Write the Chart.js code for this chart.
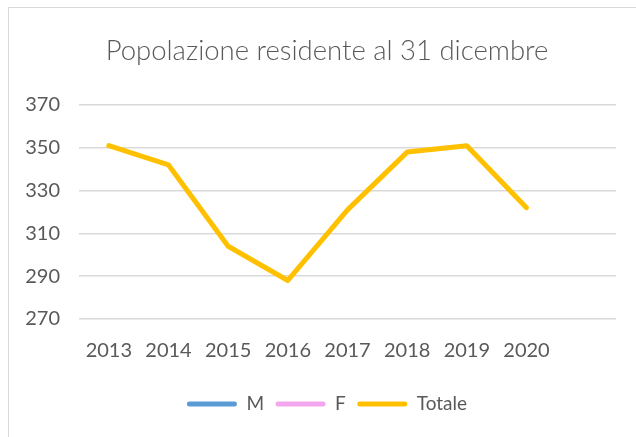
<!DOCTYPE html>
<html>
<head>
<meta charset="utf-8">
<script src="https://cdn.jsdelivr.net/npm/chart.js@4.4.0/dist/chart.umd.min.js"></script>
<style>
  html, body { margin: 0; padding: 0; background: #fff; overflow: hidden; }
  #wrap { position: relative; width: 636px; height: 437px; }
  #frame { position: absolute; left: 8px; top: 7px; width: 700px; height: 500px; border: 1px solid #d9d9d9; pointer-events: none; }
  canvas { position: absolute; left: 0; top: 0; }
</style>
</head>
<body>
<div id="wrap">
  <canvas id="c" width="636" height="437"></canvas>
  <div id="frame"></div>
</div>
<script>
const categories = ['2013', '2014', '2015', '2016', '2017', '2018', '2019', '2020', ''];
const seriesM = [null, null, null, null, null, null, null, null, null];
const seriesF = [null, null, null, null, null, null, null, null, null];
const seriesTotale = [351, 342, 304, 288, 321, 348, 351, 322, null];
const yTicks = [270, 290, 310, 330, 350, 370];

const textColor = '#595959';
const fontFam = 'Lato, "Open Sans", sans-serif';

// let the y tick labels extend left of the layout box without being clipped
const widenYLabelArea = {
  id: 'widenYLabelArea',
  afterLayout(chart) { chart.scales.y.left = 0; }
};

new Chart(document.getElementById('c'), {
  type: 'line',
  data: {
    labels: categories,
    datasets: [
      { label: 'M', data: seriesM, borderColor: '#5b9bd5', backgroundColor: '#5b9bd5', borderWidth: 5, pointRadius: 0, borderCapStyle: 'round' },
      { label: 'F', data: seriesF, borderColor: '#f4a6ee', backgroundColor: '#f4a6ee', borderWidth: 5, pointRadius: 0, borderCapStyle: 'round' },
      { label: 'Totale', data: seriesTotale, borderColor: '#ffc000', backgroundColor: '#ffc000', borderWidth: 5, pointRadius: 0, borderCapStyle: 'round', borderJoinStyle: 'round', tension: 0 }
    ]
  },
  plugins: [widenYLabelArea],
  options: {
    responsive: false,
    animation: false,
    devicePixelRatio: 1,
    layout: { padding: { left: 38, right: 20, top: 0, bottom: 13.5 } },
    plugins: {
      title: {
        display: true,
        text: 'Popolazione residente al 31 dicembre',
        color: textColor,
        font: { family: fontFam, size: 27.5, weight: '300' },
        padding: { top: 35, bottom: 37 }
      },
      legend: {
        position: 'bottom',
        labels: {
          color: textColor,
          font: { family: fontFam, size: 19 },
          boxWidth: 50,
          boxHeight: 5,
          useBorderRadius: true,
          borderRadius: 2.5,
          padding: 11.5,
          generateLabels(chart) {
            return chart.data.datasets.map((ds, i) => ({
              text: ds.label,
              fillStyle: ds.borderColor,
              strokeStyle: ds.borderColor,
              lineWidth: 0,
              fontColor: textColor,
              datasetIndex: i,
              borderRadius: 2.5
            }));
          }
        }
      },
      tooltip: { enabled: false }
    },
    scales: {
      x: {
        offset: true,
        grid: { display: false, drawTicks: false },
        border: { display: false },
        ticks: { color: textColor, font: { family: fontFam, size: 20 }, padding: 20, maxRotation: 0, autoSkip: false }
      },
      y: {
        min: 270,
        max: 370,
        afterBuildTicks(scale) { scale.ticks = yTicks.map(v => ({ value: v })); },
        afterFit(scale) { scale.width = 41; },
        grid: { color: '#d9d9d9', lineWidth: 1.5, drawTicks: false },
        border: { display: false },
        ticks: { color: textColor, font: { family: fontFam, size: 20 }, padding: 19 }
      }
    }
  }
});
</script>
</body>
</html>
